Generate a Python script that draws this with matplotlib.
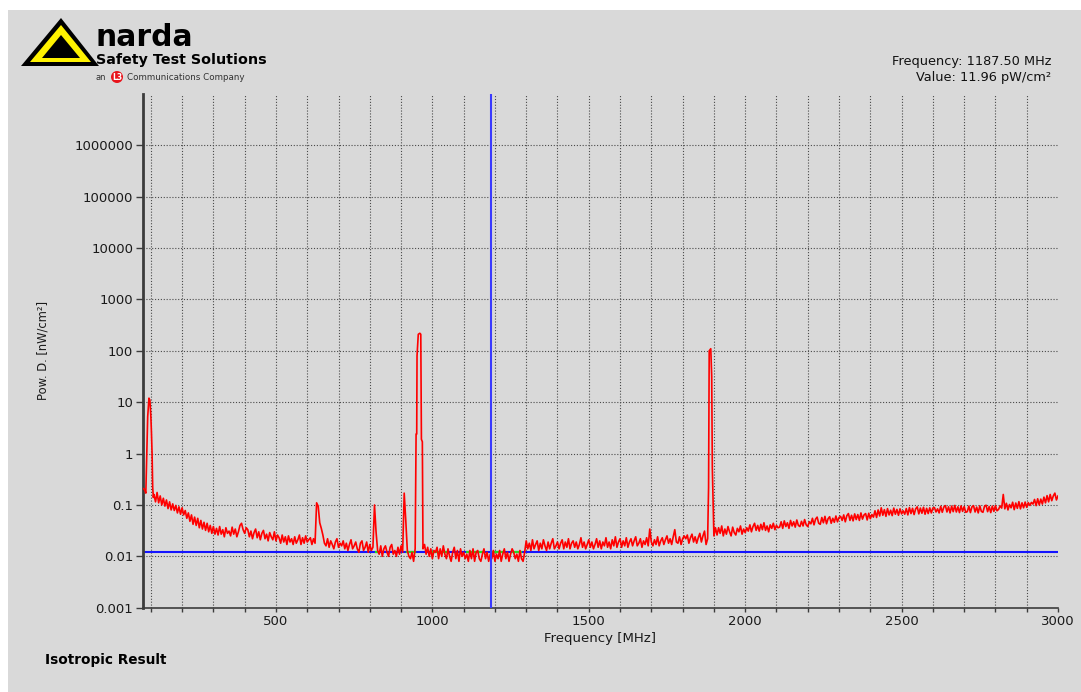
import numpy as np
import matplotlib.pyplot as plt
from matplotlib.patches import Polygon, Rectangle, Circle
from matplotlib.ticker import FixedLocator, NullLocator

plt.rcParams['font.family'] = ['DejaVu Sans']

W, H = 1081, 692

# sweep on a 5 MHz grid from 110 MHz, power density in pW/cm^2
grid_start, grid_step = 110, 5
noise_pw = [
    160, 115, 175, 110, 150, 100, 135, 95, 125, 85, 115, 80, 105, 78, 98, 70, 92, 66, 88, 64,        # 110-205
    78, 55, 70, 48, 64, 42, 58, 40, 55, 36, 50, 34, 46, 32, 44, 30, 40, 28, 38, 27,                  # 210-305
    35, 26, 38, 27, 33, 24, 36, 28, 31, 25, 37, 27, 34, 24, 30, 40, 44, 33, 28, 36,                  # 310-405
    33, 24, 31, 22, 29, 34, 23, 30, 21, 28, 32, 22, 27, 20, 29, 24, 21, 30, 20, 26,                  # 410-505
    23, 18, 26, 19, 24, 17, 25, 19, 22, 17, 24, 18, 21, 26, 17, 23, 18, 25, 19, 21,                  # 510-605
    23, 17, 22, 18, 110, 95, 45, 35, 26, 18, 16, 22, 15, 20, 17, 14, 19, 22, 15, 18,                 # 610-705
    16, 20, 14, 18, 13, 17, 21, 14, 16, 19, 14, 12, 18, 20, 13, 15, 19, 12, 17, 13,                  # 710-805
    15, 100, 30, 13, 11, 16, 10, 14, 16, 12, 10, 15, 17, 11, 13, 10, 15, 11, 16, 12,                 # 810-905
    170, 50, 13, 10, 9, 12, 8, 14, 2400, 210000, 220000, 1900, 14, 17, 11, 15, 10, 14, 9, 13,        # 910-1005
    12, 15, 9, 14, 10, 16, 11, 9, 14, 10, 8, 12, 15, 9, 13, 8, 14, 10, 12, 9,                        # 1010-1105
    11, 8, 13, 9, 14, 8, 12, 13, 9, 8, 11, 14, 9, 12, 8, 11, 9, 13, 8, 11,                           # 1110-1205
    9, 13, 8, 11, 14, 9, 12, 8, 11, 14, 12, 9, 11, 8, 13, 9, 8, 12, 20, 14,                          # 1210-1305
    18, 13, 21, 14, 17, 20, 13, 18, 14, 21, 16, 13, 19, 14, 18, 22, 14, 16, 19, 14,                  # 1310-1405
    18, 21, 14, 19, 15, 22, 14, 18, 20, 15, 19, 14, 17, 23, 15, 19, 14, 17, 21, 15,                  # 1410-1505
    19, 14, 17, 22, 15, 20, 14, 19, 16, 23, 15, 19, 14, 21, 16, 24, 15, 19, 22, 15,                  # 1510-1605
    20, 16, 23, 15, 19, 22, 16, 20, 24, 16, 18, 22, 15, 20, 17, 23, 16, 34, 19, 16,                  # 1610-1705
    21, 17, 24, 16, 20, 23, 17, 21, 25, 18, 22, 17, 24, 33, 19, 18, 24, 17, 22, 25,                  # 1710-1805
    22, 26, 18, 23, 27, 19, 24, 18, 23, 28, 19, 25, 31, 17, 22, 100000, 110000, 520, 25, 36,         # 1810-1905
    26, 36, 28, 39, 25, 34, 27, 38, 30, 25, 37, 29, 26, 35, 30, 39, 27, 34, 29, 36,                  # 1910-2005
    31, 41, 30, 38, 44, 32, 40, 31, 42, 33, 45, 32, 39, 30, 41, 35, 44, 33, 40, 36,                  # 2010-2105
    37, 47, 35, 49, 38, 45, 35, 50, 39, 47, 37, 51, 40, 38, 48, 39, 52, 41, 38, 47,                  # 2110-2205
    43, 55, 41, 53, 58, 44, 42, 57, 45, 60, 43, 54, 59, 44, 55, 46, 61, 47, 57, 60,                  # 2210-2305
    50, 64, 47, 62, 68, 50, 63, 49, 67, 52, 65, 50, 70, 53, 64, 68, 51, 69, 54, 65,                  # 2310-2405
    58, 77, 57, 80, 61, 88, 63, 81, 60, 85, 64, 79, 62, 87, 66, 82, 63, 84, 67, 77,                  # 2410-2505
    66, 85, 64, 89, 68, 86, 65, 84, 92, 67, 87, 69, 90, 66, 86, 68, 88, 70, 87, 89,                  # 2510-2605
    73, 84, 70, 94, 72, 91, 97, 73, 92, 70, 95, 74, 98, 73, 92, 71, 96, 75, 93, 72,                  # 2610-2705
    74, 95, 71, 92, 97, 73, 91, 70, 96, 75, 72, 94, 99, 74, 93, 71, 95, 75, 97, 77,                  # 2710-2805
    82, 96, 87, 160, 84, 108, 80, 102, 88, 113, 81, 109, 86, 116, 84, 110, 88, 114, 90, 111,         # 2810-2905
    98, 112, 104, 128, 97, 132, 100, 130, 104, 142, 110, 152, 115, 160, 121, 150, 170, 125, 150,     # 2910-3000
]

# carriers resolved finer than the grid: FM band, GSM900, GSM1800
carrier_mhz = [75, 80, 84, 87, 90, 94, 97, 100, 102, 104, 106, 108,
               948, 951, 963, 968,
               1883, 1893]
carrier_pw = [210, 200, 170, 1000, 5200, 12000, 11000, 5500, 2600, 1000, 220, 140,
              2400, 80000, 210000, 1700,
              220, 32000]

# second trace, visible only where it sits on the marker level
green_spans = [(820, 826), (920, 944), (1000, 1048), (1110, 1162), (1194, 1226), (1258, 1282)]
green_pw = 12.3

cursor_mhz = 1187.5
cursor_pw = 11.96

xtick_vals = list(range(100, 3001, 100))
ytick_vals = [1e-3, 1e-2, 1e-1, 1, 10, 100, 1e3, 1e4, 1e5, 1e6]
ytick_labels = ["0.001", "0.01", "0.1", "1", "10", "100", "1000",
                "10000", "100000", "1000000"]

grid_mhz = grid_start + grid_step * np.arange(len(noise_pw))
freq = np.concatenate([grid_mhz, carrier_mhz])
power = np.concatenate([noise_pw, carrier_pw]) / 1000.0   # -> nW/cm^2
order = np.argsort(freq, kind="stable")
freq, power = freq[order], power[order]

bg = '#d9d9d9'
fig = plt.figure(figsize=(W / 100, H / 100), dpi=100, facecolor='white')

# page decorations in pixel coordinates
deco = fig.add_axes([0, 0, 1, 1], zorder=-1)
deco.set_xlim(0, W)
deco.set_ylim(H, 0)
deco.axis('off')
deco.add_patch(Rectangle((8, 10), W, H, facecolor=bg, edgecolor='none'))

deco.add_patch(Polygon([(61, 18), (21, 66), (99, 66)], closed=True, facecolor='black'))
deco.add_patch(Polygon([(61, 25), (30, 62), (91, 62)], closed=True, facecolor='#fff200'))
deco.add_patch(Polygon([(61, 35), (42, 58), (80, 58)], closed=True, facecolor='black'))
deco.text(96, 45.5, "narda", fontsize=21.5, fontweight='bold', ha='left', va='baseline')
deco.text(96, 64, "Safety Test Solutions", fontsize=10.3, fontweight='bold',
          ha='left', va='baseline')
deco.text(96, 77.5, "an", fontsize=6, color='#333333', ha='left', va='center')
deco.add_patch(Circle((117, 77), 6, facecolor='#e8141c', edgecolor='none'))
deco.text(117, 77.5, "L3", fontsize=5.5, fontweight='bold', color='white',
          ha='center', va='center')
deco.text(127, 77.5, "Communications Company", fontsize=6.3, color='#333333',
          ha='left', va='center')

deco.text(1051, 62, f"Frequency: {cursor_mhz:.2f} MHz", fontsize=9.3,
          ha='right', va='center', color='#111111')
deco.text(1051, 78, f"Value: {cursor_pw:.2f} pW/cm²", fontsize=9.3,
          ha='right', va='center', color='#111111')
deco.text(45, 660, "Isotropic Result", fontsize=9.8, fontweight='bold',
          ha='left', va='center')

# spectrum axes
ax = fig.add_axes([143 / W, 1 - 607.7 / H, 915 / W, 513.7 / H])
ax.set_facecolor('none')
ax.set_yscale('log')
ax.set_xlim(75, 3000)
ax.set_ylim(1e-3, 1e7)

ax.xaxis.set_major_locator(FixedLocator(xtick_vals))
ax.set_xticklabels([str(v) if v % 500 == 0 else "" for v in xtick_vals])
ax.yaxis.set_major_locator(FixedLocator(ytick_vals))
ax.yaxis.set_minor_locator(NullLocator())
ax.set_yticklabels(ytick_labels)

ax.tick_params(axis='x', direction='out', length=3, width=1, color='#3c3c3c',
               labelsize=9.5, pad=2, labelcolor='#1a1a1a')
ax.tick_params(axis='y', direction='out', length=5, width=1, color='#3c3c3c',
               labelsize=9.5, pad=2, labelcolor='#1a1a1a')

ax.grid(True, which='major', linestyle=(0, (1, 1.6)), color='#4a4a4a', linewidth=0.8)
ax.xaxis.get_gridlines()[-1].set_visible(False)
ax.yaxis.get_gridlines()[0].set_visible(False)

for side in ('top', 'right'):
    ax.spines[side].set_visible(False)
ax.spines['left'].set_linewidth(2)
ax.spines['left'].set_color('#3c3c3c')
ax.spines['bottom'].set_linewidth(1.2)
ax.spines['bottom'].set_color('#3c3c3c')

ax.axhline(cursor_pw / 1000.0, color='#1414ff', linewidth=1.5, zorder=2)
for lo, hi in green_spans:
    ax.plot([lo, hi], [green_pw / 1000.0] * 2, color='#22dd22', linewidth=1.6, zorder=2.5)
ax.plot(freq, power, color='#ff0000', linewidth=1.2, zorder=3)
ax.axvline(cursor_mhz, color='#3a3aff', linewidth=1.5, zorder=4)

ax.set_xlabel("Frequency [MHz]", fontsize=9.5, color='#1a1a1a')
ax.xaxis.set_label_coords(0.5, -0.048)
ax.set_ylabel("Pow. D. [nW/cm²]", fontsize=8.3, color='#1a1a1a')
ax.yaxis.set_label_coords(-0.102, 0.5)

fig.savefig('out.png', dpi=100, facecolor='white')
